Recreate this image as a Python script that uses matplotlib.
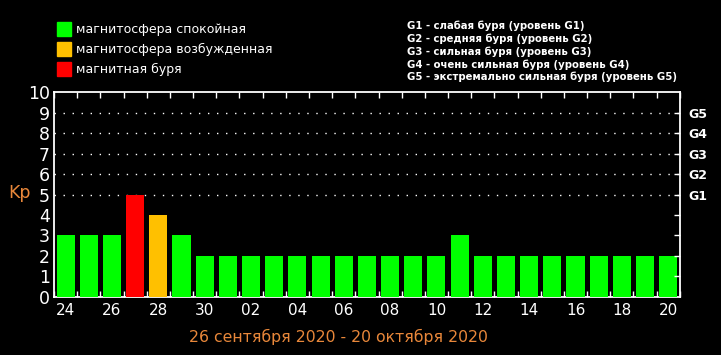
import numpy as np
import matplotlib.pyplot as plt
from matplotlib.patches import Rectangle

days = ['24', '25', '26', '27', '28', '29', '30',
        '01', '02', '03', '04', '05', '06', '07', '08', '09', '10',
        '11', '12', '13', '14', '15', '16', '17', '18', '19', '20']
kp = [3, 3, 3, 5, 4, 3, 2,
      2, 2, 2, 2, 2, 2, 2, 2, 2, 2,
      3, 2, 2, 2, 2, 2, 2, 2, 2, 2]
g_levels = ['G1', 'G2', 'G3', 'G4', 'G5']
legend_left = ['магнитосфера спокойная', 'магнитосфера возбужденная', 'магнитная буря']
legend_right = ['G1 - слабая буря (уровень G1)',
                'G2 - средняя буря (уровень G2)',
                'G3 - сильная буря (уровень G3)',
                'G4 - очень сильная буря (уровень G4)',
                'G5 - экстремально сильная буря (уровень G5)']
period = '26 сентября 2020 - 20 октября 2020'

GREEN = '#00ff00'
ORANGE = '#ffc000'
RED = '#ff0000'
KP_COL = '#e8873a'

def bar_color(v):
    if v >= 5:
        return RED
    if v == 4:
        return ORANGE
    return GREEN

fig = plt.figure(figsize=(7.21, 3.55), dpi=100, facecolor='black')
ax = fig.add_axes([0.0749, 0.1634, 0.868, 0.5774], facecolor='black')

x = np.arange(len(days))
ax.bar(x, kp, width=0.78, color=[bar_color(v) for v in kp], zorder=3)

ax.set_xlim(-0.5, len(days) - 0.5)
ax.set_ylim(0, 10)

# dotted lines for storm levels
for lvl in range(5, 10):
    ax.axhline(lvl, color='white', linestyle=(0, (1, 5.5)), linewidth=1.0, zorder=1)

for s in ax.spines.values():
    s.set_color('white')
    s.set_linewidth(1.3)

# x ticks: labels every other day, small ticks on day boundaries
ax.set_xticks(x[::2])
ax.set_xticklabels(days[::2], color='white', fontsize=11)
ax.tick_params(axis='x', which='major', length=0, pad=4)
ax.set_xticks(np.arange(len(days) + 1) - 0.5, minor=True)
ax.tick_params(axis='x', which='minor', direction='in', length=4, width=1,
               color='white', top=True, bottom=True)

ax.set_yticks(range(0, 11))
ax.set_yticklabels([str(i) for i in range(0, 11)], color='white', fontsize=12.5)
ax.tick_params(axis='y', length=0, pad=3)

ax2 = ax.twinx()
ax2.set_ylim(0, 10)
ax2.set_yticks(range(1, 10))
ax2.set_yticklabels([''] * 4 + g_levels, color='white', fontsize=9,
                    fontweight='bold')
ax2.tick_params(axis='y', direction='in', length=4, width=1, color='white', pad=6)
for s in ax2.spines.values():
    s.set_visible(False)

fig.text(0.011, 0.455, 'Kp', color=KP_COL, fontsize=12.5, va='center')
fig.text(0.470, 0.052, period, color=KP_COL, fontsize=11.3, ha='center', va='center')

# legend on the left
for i, (lab, col) in enumerate(zip(legend_left, [GREEN, ORANGE, RED])):
    yc = 355 - (29 + i * 20)
    fig.patches.append(Rectangle((57 / 721, (yc - 7) / 355), 14 / 721, 14 / 355,
                                 transform=fig.transFigure, color=col))
    fig.text(76 / 721, yc / 355, lab, color='white', fontsize=9, va='center')

# storm levels list on the right
for i, lab in enumerate(legend_right):
    yc = 355 - (26 + i * 12.8)
    fig.text(407 / 721, yc / 355, lab, color='white', fontsize=7.3,
             fontweight='bold', va='center')

fig.savefig('out.png', dpi=100, facecolor='black')
